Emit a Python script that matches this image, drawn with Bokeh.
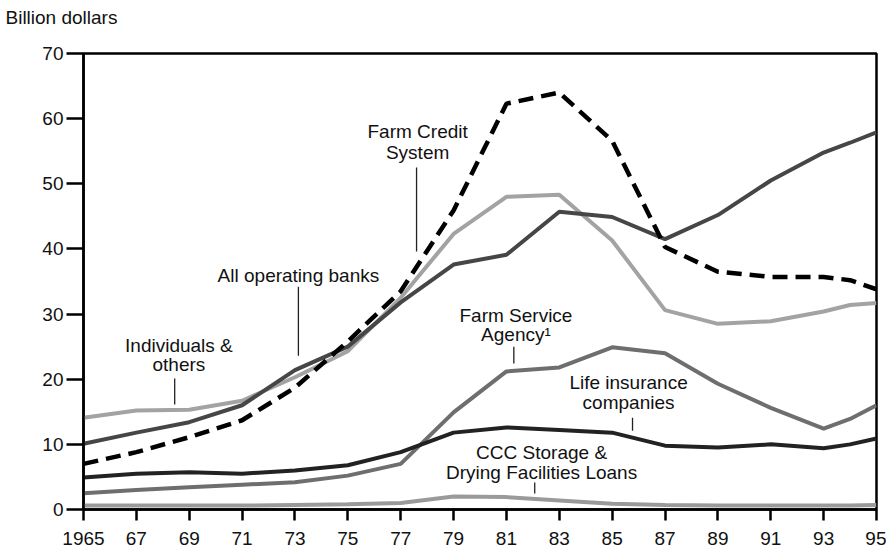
from bokeh.plotting import figure
from bokeh.models import Range1d, FixedTicker, ColumnDataSource, Title
from bokeh.core.properties import value
from bokeh.embed import file_html
from bokeh.resources import INLINE

years = [1965, 1967, 1969, 1971, 1973, 1975, 1977, 1979, 1981, 1983, 1985, 1987, 1989, 1991, 1993, 1994, 1995]
farm_credit_system = [7.0, 8.8, 11.1, 13.7, 18.7, 25.8, 33.5, 45.9, 62.3, 64.0, 56.6, 40.3, 36.5, 35.7, 35.7, 35.2, 33.8]
all_operating_banks = [10.1, 11.8, 13.4, 16.0, 21.4, 25.0, 31.8, 37.6, 39.1, 45.7, 44.9, 41.5, 45.2, 50.5, 54.8, 56.3, 57.9]
individuals_others = [14.1, 15.2, 15.3, 16.7, 20.3, 24.3, 32.5, 42.3, 48.0, 48.3, 41.3, 30.6, 28.5, 28.9, 30.4, 31.4, 31.7]
farm_service_agency = [2.5, 3.0, 3.4, 3.8, 4.2, 5.2, 7.0, 14.9, 21.2, 21.8, 24.9, 24.0, 19.3, 15.6, 12.4, 13.9, 16.0]
life_insurance = [4.9, 5.5, 5.7, 5.5, 6.0, 6.8, 8.8, 11.8, 12.6, 12.2, 11.8, 9.8, 9.5, 10.0, 9.4, 10.0, 10.9]
ccc_storage = [0.6, 0.6, 0.6, 0.6, 0.7, 0.8, 1.0, 2.0, 1.9, 1.4, 0.9, 0.7, 0.6, 0.6, 0.6, 0.6, 0.7]

x_ticks = list(range(1965, 1996, 2))
x_tick_labels = ["1965"] + [str(y)[2:] for y in x_ticks[1:]]
y_ticks = [0, 10, 20, 30, 40, 50, 60, 70]

FONT = "Liberation Sans"

p = figure(width=886, height=553, output_backend="svg", toolbar_location=None,
           x_range=Range1d(1965, 1995), y_range=Range1d(0, 70), title_location=None)
p.min_border_left = 83
p.min_border_top = 53
p.min_border_right = 10
p.min_border_bottom = 44
p.background_fill_color = "white"
p.border_fill_color = "white"
p.outline_line_color = "black"
p.outline_line_width = 2.5
p.xgrid.visible = False
p.ygrid.visible = False

# spacer (closest to the frame), then the unit title further out
p.add_layout(Title(text=" ", text_font_size="10px", standoff=11), "above")
p.add_layout(Title(text="Billion dollars", align="left", offset=-78, vertical_align="top",
                   standoff=0, text_font=FONT, text_font_size="19px",
                   text_font_style="normal", text_color="#111111"), "above")

p.xaxis.ticker = FixedTicker(ticks=x_ticks)
p.xaxis.major_label_overrides = {t: l for t, l in zip(x_ticks, x_tick_labels)}
p.yaxis.ticker = FixedTicker(ticks=y_ticks)
for ax in (p.xaxis, p.yaxis):
    ax.axis_line_width = 2.5
    ax.axis_line_color = "black"
    ax.major_tick_line_width = 2.5
    ax.major_tick_line_color = "black"
    ax.minor_tick_line_color = None
    ax.major_tick_in = 0
    ax.major_label_text_font = FONT
    ax.major_label_text_font_size = "19px"
    ax.major_label_text_color = "#111111"
p.xaxis.major_tick_out = 11
p.xaxis.major_label_standoff = 11
p.yaxis.major_tick_out = 17
p.yaxis.major_label_standoff = 3

src = ColumnDataSource(dict(x=years, fcs=farm_credit_system, banks=all_operating_banks,
                            ind=individuals_others, fsa=farm_service_agency,
                            life=life_insurance, ccc=ccc_storage))

p.line("x", "ccc", source=src, line_color="#9a9a9a", line_width=4)
p.line("x", "fsa", source=src, line_color="#6e6e6e", line_width=4)
p.line("x", "life", source=src, line_color="#222222", line_width=4)
p.line("x", "ind", source=src, line_color="#a3a3a3", line_width=4)
p.line("x", "banks", source=src, line_color="#464646", line_width=4)
p.line("x", "fcs", source=src, line_color="black", line_width=4.5, line_dash="15 8")

# annotation labels
lab_x = [1977.64, 1977.64, 1973.13, 1968.61, 1968.61, 1981.36, 1981.36, 1985.62, 1985.62, 1982.33, 1982.33]
lab_y = [58.0, 54.8, 35.9, 25.2, 22.3, 29.8, 26.9, 19.5, 16.4, 8.75, 5.68]
lab_t = ["Farm Credit", "System", "All operating banks", "Individuals &", "others",
         "Farm Service", "Agency\u00b9", "Life insurance", "companies",
         "CCC Storage &", "Drying Facilities Loans"]
p.text(x=lab_x, y=lab_y, text=lab_t, text_align="center", text_baseline="middle",
       text_font=value(FONT), text_font_size="19px", text_color="#111111")

# leader lines
ld_x = [1977.6, 1973.13, 1968.45, 1981.28, 1985.77, 1982.07]
ld_y0 = [52.5, 34.2, 20.1, 25.0, 14.1, 4.14]
ld_y1 = [39.6, 23.6, 16.1, 22.4, 12.1, 2.46]
p.segment(x0=ld_x, y0=ld_y0, x1=ld_x, y1=ld_y1, line_color="#222222", line_width=1.3)

open("out.html", "w").write(file_html(p, INLINE))
